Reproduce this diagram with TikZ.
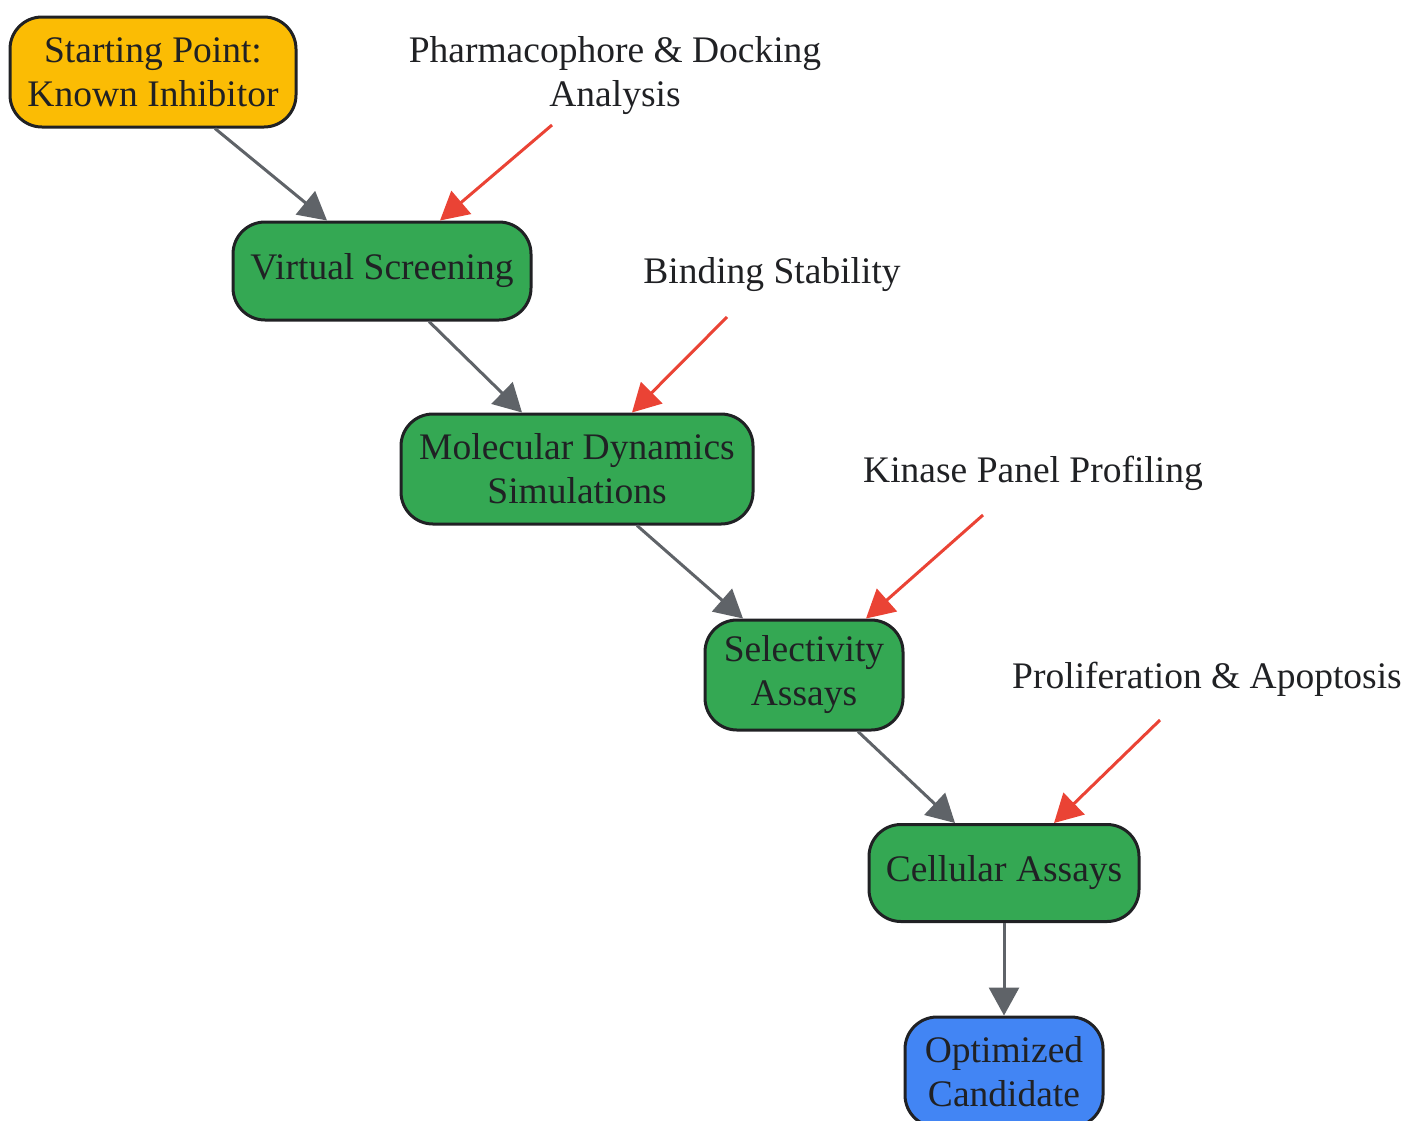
\documentclass[tikz,border=0pt]{standalone}
\usepackage{fontspec}
\setmainfont{Liberation Serif}
\usetikzlibrary{arrows.meta}
\definecolor{startyellow}{HTML}{FBBC04}
\definecolor{stepgreen}{HTML}{34A853}
\definecolor{endblue}{HTML}{4285F4}
\definecolor{flowgray}{HTML}{5F6368}
\definecolor{checkred}{HTML}{EA4335}
\definecolor{inkdark}{HTML}{202124}
\begin{document}
\begin{tikzpicture}[x=1pt, y=-1pt,
        stage/.style={draw=inkdark, line width=3pt, rounded corners=32pt, align=center,
            text=inkdark, font=\fontsize{37.5}{44}\selectfont, inner sep=0pt},
        note/.style={align=center, text=inkdark, font=\fontsize{37.5}{44}\selectfont},
        flow/.style={-{Triangle[length=28pt,width=30pt]}, line width=3pt, draw=flowgray, fill=flowgray},
        check/.style={-{Triangle[length=28pt,width=30pt]}, line width=3pt, draw=checkred, fill=checkred}]
        \useasboundingbox (0, 0) rectangle (1404, 1120);
        % pipeline stages
        \node[stage, fill=startyellow, minimum width=286pt, minimum height=110pt] (start) at (153, 72) {Starting Point:\\Known Inhibitor};
        \node[stage, fill=stepgreen, minimum width=298pt, minimum height=98pt] (screen) at (382, 271) {Virtual Screening};
        \node[stage, fill=stepgreen, minimum width=352pt, minimum height=110pt] (md) at (577, 469) {Molecular Dynamics\\Simulations};
        \node[stage, fill=stepgreen, minimum width=198pt, minimum height=110pt] (select) at (804, 675) {Selectivity\\Assays};
        \node[stage, fill=stepgreen, minimum width=270pt, minimum height=97pt] (cell) at (1004, 873) {Cellular Assays};
        \node[stage, fill=endblue, minimum width=198pt, minimum height=110pt] (final) at (1004, 1072) {Optimized\\Candidate};
        % checks feeding in
        \node[note] (dock) at (615, 76) {Pharmacophore \& Docking\\Analysis};
        \node[note] (bind) at (772, 275) {Binding Stability};
        \node[note] (kinase) at (1033, 473) {Kinase Panel Profiling};
        \node[note] (prolif) at (1207, 679) {Proliferation \& Apoptosis};
        \coordinate (dockend) at (552, 125);
        \coordinate (bindend) at (727, 317);
        \coordinate (kinaseend) at (983, 515);
        \coordinate (prolifend) at (1160, 720);
        % main flow
        \draw[flow] ([xshift=62pt]start.south) -- ([xshift=-55pt]screen.north);
        \draw[flow] ([xshift=47pt]screen.south) -- ([xshift=-55pt]md.north);
        \draw[flow] ([xshift=60pt]md.south) -- ([xshift=-61pt]select.north);
        \draw[flow] ([xshift=54pt]select.south) -- ([xshift=-49pt]cell.north);
        \draw[flow] (cell.south) -- (final.north);
        % red inputs
        \draw[check] (dockend) -- ([xshift=58pt]screen.north);
        \draw[check] (bindend) -- ([xshift=55pt]md.north);
        \draw[check] (kinaseend) -- ([xshift=62pt]select.north);
        \draw[check] (prolifend) -- ([xshift=50pt]cell.north);
    \end{tikzpicture}
\end{document}
